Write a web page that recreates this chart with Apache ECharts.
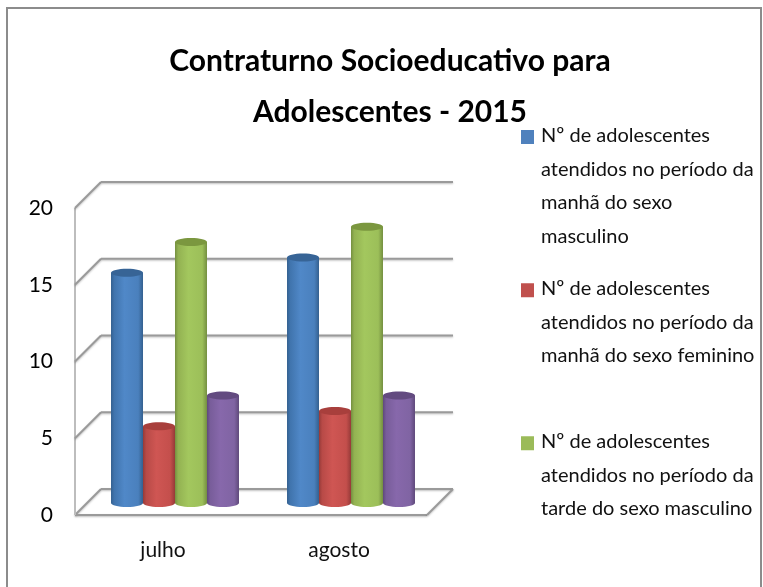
<!DOCTYPE html>
<html><head><meta charset="utf-8">
<style>html,body{margin:0;padding:0;background:#fff}#c{width:763px;height:587px}</style>
<script src="https://cdn.jsdelivr.net/npm/echarts@6/dist/echarts.min.js"></script>
</head><body><div id="c"></div>
<script>
const categories = ['julho', 'agosto'];
const yTicks = [0, 5, 10, 15, 20];
const titleText = 'Contraturno Socioeducativo para\nAdolescentes - 2015';
const nameManhaM = 'Nº de adolescentes\natendidos no período da\nmanhã do sexo\nmasculino';
const nameManhaF = 'Nº de adolescentes\natendidos no período da\nmanhã do sexo feminino';
const nameTardeM = 'Nº de adolescentes\natendidos no período da\ntarde do sexo masculino';
const nameTardeF = 'Nº de adolescentes\natendidos no período da\ntarde do sexo feminino';
const manhaMasculino = [15, 16];
const manhaFeminino = [5, 6];
const tardeMasculino = [17, 18];
const tardeFeminino = [7, 7];

const FONT = 'Lato,"Open Sans",sans-serif';
const DEPTH = 26, MID = 12, BAR_W = 32, RY = 4;

function grad(stops) {
  return new echarts.graphic.LinearGradient(0, 0, 1, 0,
    stops.map((c, i) => ({offset: [0, .1, .42, .85, 1][i], color: c})));
}
function cylinder(color, stops, top, slot) {
  return {
    type: 'custom', name: color.name, coordinateSystem: 'cartesian2d', z: 5,
    itemStyle: {color: color.base},
    encode: {x: 0, y: 1},
    data: color.values.map((v, i) => [i, v]),
    renderItem(params, api) {
      const band = api.size([1, 0])[0];
      const p = api.coord([api.value(0), api.value(1)]);
      const b = api.coord([api.value(0), 0]);
      const cx = p[0] + MID + slot * band * 0.1818;
      const yT = p[1] - MID, yB = b[1] - MID;
      const fill = grad(stops);
      const rx = BAR_W / 2;
      return {type: 'group', children: [
        {type: 'ellipse', shape: {cx, cy: yB, rx, ry: RY}, style: {fill}},
        {type: 'rect', shape: {x: cx - rx, y: yT, width: BAR_W, height: yB - yT}, style: {fill}},
        {type: 'ellipse', shape: {cx, cy: yT, rx, ry: RY}, style: {fill: top}}
      ]};
    }
  };
}

const wallSeries = {
  type: 'custom', name: 'wall', coordinateSystem: 'cartesian2d', z: 1, silent: true,
  encode: {y: 0},
  data: yTicks.map(t => [t]),
  renderItem(params, api) {
    const v = api.value(0);
    const a = api.coord([0, v]);
    const cs = params.coordSys;
    const x0 = cs.x, x1 = cs.x + cs.width, y = a[1];
    const st = {stroke: '#9a9a9a', lineWidth: 2, shadowBlur: 2, shadowColor: 'rgba(0,0,0,.25)', shadowOffsetY: 1};
    const ch = [
      {type: 'line', shape: {x1: x0, y1: y, x2: x0 + DEPTH, y2: y - DEPTH}, style: st},
      {type: 'line', shape: {x1: x0 + DEPTH, y1: y - DEPTH, x2: x1 + DEPTH, y2: y - DEPTH}, style: st}
    ];
    if (v === 0) {
      ch.push({type: 'line', shape: {x1: x0, y1: y, x2: x1, y2: y}, style: st});
      ch.push({type: 'line', shape: {x1: x1, y1: y, x2: x1 + DEPTH, y2: y - DEPTH}, style: st});
      ch.push({type: 'line', shape: {x1: x0, y1: y, x2: x0, y2: cs.y}, style: {stroke: '#bdbdbd', lineWidth: 2}});
    }
    return {type: 'group', children: ch};
  }
};

function legendFor(name, top, height) {
  return {
    data: [name], left: 521, top, padding: 0, orient: 'vertical', selectedMode: false,
    itemWidth: 15, itemHeight: height,
    icon: `path://M0 0L0 0M0 11H13V25H0ZM15 ${height}L15 ${height}`,
    textStyle: {fontFamily: FONT, fontSize: 20, lineHeight: 33.5, color: '#111'}
  };
}

const chart = echarts.init(document.getElementById('c'), null, {renderer: 'canvas'});
chart.setOption({
  animation: false,
  backgroundColor: '#fff',
  title: {
    text: titleText, left: 385, top: 31, textAlign: 'center',
    textStyle: {fontFamily: FONT, fontSize: 30, fontWeight: 'bold', color: '#000', lineHeight: 51}
  },
  graphic: [{type: 'rect', z: 0, shape: {x: 7, y: 8, width: 754, height: 620},
    style: {fill: 'none', stroke: '#8c8c8c', lineWidth: 2}}],
  legend: [legendFor(nameManhaM, 119, 134), legendFor(nameManhaF, 272, 100), legendFor(nameTardeM, 425, 100)],
  grid: {left: 75, top: 208, width: 352, height: 307},
  xAxis: {
    type: 'category', data: categories,
    axisLine: {show: false}, axisTick: {show: false},
    axisLabel: {fontFamily: FONT, fontSize: 21, color: '#111', margin: 25}
  },
  yAxis: {
    type: 'value', min: 0, max: 20, interval: 5,
    axisLine: {show: false}, axisTick: {show: false}, splitLine: {show: false},
    axisLabel: {fontFamily: FONT, fontSize: 21, color: '#000', margin: 22, padding: [5, 0, 0, 0]}
  },
  series: [
    wallSeries,
    cylinder({name: nameManhaM, base: '#4F81BD', values: manhaMasculino},
      ['#34608f', '#4074ad', '#5088c8', '#4a80bd', '#34608f'], '#376496', -1.5),
    cylinder({name: nameManhaF, base: '#C0504D', values: manhaFeminino},
      ['#963a38', '#b84a47', '#cf5653', '#c44f4c', '#963a38'], '#a83f3c', -0.5),
    cylinder({name: nameTardeM, base: '#9BBB59', values: tardeMasculino},
      ['#748f40', '#93b252', '#a3c75e', '#9cbf59', '#748f40'], '#7b973f', 0.5),
    cylinder({name: nameTardeF, base: '#8064A2', values: tardeFeminino},
      ['#5f497b', '#785d9a', '#8768ab', '#8064a3', '#5f497b'], '#634b80', 1.5)
  ]
});
</script></body></html>
